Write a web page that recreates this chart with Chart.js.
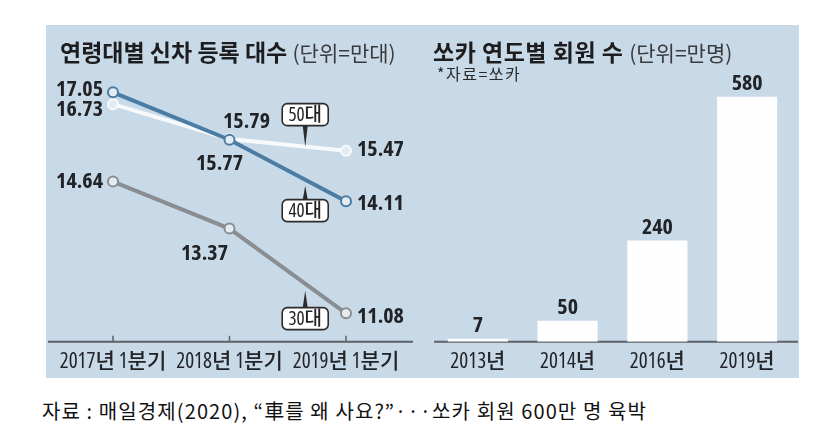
<!DOCTYPE html>
<html><head><meta charset="utf-8">
<script src="https://cdn.jsdelivr.net/npm/chart.js@4.4.0/dist/chart.umd.min.js"></script>
<style>
html,body{margin:0;padding:0;background:#fff;width:819px;height:431px;overflow:hidden;position:relative;}
#panel{position:absolute;left:46px;top:25px;width:753px;height:353px;background:#c8d9e7;}
canvas{position:absolute;top:25px;}
#lc{left:46px;}
#rc{left:416px;}
.title{position:absolute;font-family:'Noto Sans CJK KR',sans-serif;font-weight:700;font-size:23px;line-height:23px;color:#1d1d1f;white-space:nowrap;}
.title span{font-weight:400;font-size:21px;color:#3a3b3e;}
.note{position:absolute;left:437px;top:65px;font-family:'Noto Sans CJK KR',sans-serif;font-size:16px;line-height:16px;letter-spacing:1.5px;color:#2a2a2a;white-space:nowrap;}
#caption{position:absolute;left:42px;top:399px;font-family:'Noto Sans CJK KR',sans-serif;font-size:20px;line-height:24px;letter-spacing:1.1px;color:#111;white-space:nowrap;}
</style></head>
<body>
<div id="panel"></div>
<canvas id="lc" width="370" height="360"></canvas>
<canvas id="rc" width="383" height="360"></canvas>
<div class="title" style="left:60px;top:40px">연령대별 신차 등록 대수 <span>(단위=만대)</span></div>
<div class="title" style="left:433px;top:40px;letter-spacing:0.5px">쏘카 연도별 회원 수 <span style="letter-spacing:0">(단위=만명)</span></div>
<div class="note">*자료=쏘카</div>
<div id="caption">자료 : 매일경제(2020), “車를 왜 사요?”···쏘카 회원 600만 명 육박</div>
<script>
// ---- data ----
const quarterLabels = ['2017년 1분기', '2018년 1분기', '2019년 1분기'];
const seriesNames = ['40대', '50대', '30대'];
const age40 = [17.05, 15.77, 14.11];
const age50 = [16.73, 15.79, 15.47];
const age30 = [14.64, 13.37, 11.08];
const yearLabels = ['2013년', '2014년', '2016년', '2019년'];
const socarMembers = [7, 50, 240, 580];

// ---- style ----
const FAM = "'Open Sans','Noto Sans CJK KR',sans-serif";
const TEXT = '#222326';
const AXIS = '#5b6167';
const POINT_FILL = '#e4ecf2';
const lineColors = {'40대': '#4a7ca4', '50대': '#f7f9fb', '30대': '#8a8e93'};
const labelPlacement = {
  '40대': [{a:'right',dx:-10,dy:-3},{a:'center',dx:-10,dy:24},{a:'left',dx:11,dy:3}],
  '50대': [{a:'right',dx:-10,dy:6},{a:'center',dx:17,dy:-17},{a:'left',dx:11,dy:-1}],
  '30대': [{a:'right',dx:-10,dy:0},{a:'center',dx:-25,dy:25},{a:'left',dx:11,dy:3}]
};
const tagPlacement = {'40대': {t:0.65, dy:31, gap:6}, '50대': {t:0.65, dy:-32, gap:0}, '30대': {t:0.65, dy:35, gap:7}};
const tickFont = {family: FAM, size: 21, weight: '500 condensed', lineHeight: 1.2};

Chart.defaults.font.family = FAM;
Chart.defaults.color = TEXT;

function roundRect(ctx, x, y, w, h, r) {
  ctx.beginPath();
  ctx.moveTo(x + r, y);
  ctx.arcTo(x + w, y, x + w, y + h, r);
  ctx.arcTo(x + w, y + h, x, y + h, r);
  ctx.arcTo(x, y + h, x, y, r);
  ctx.arcTo(x, y, x + w, y, r);
  ctx.closePath();
}

const lineDecor = {
  id: 'lineDecor',
  beforeDatasetsDraw(chart) {
    const {ctx, chartArea, scales: {x}} = chart;
    const y0 = chartArea.bottom;
    ctx.save();
    ctx.strokeStyle = AXIS;
    ctx.lineWidth = 2;
    ctx.beginPath(); ctx.moveTo(2, y0); ctx.lineTo(chart.width - 3, y0); ctx.stroke();
    ctx.lineWidth = 1.5;
    x.ticks.forEach((t, i) => {
      const px = x.getPixelForTick(i);
      ctx.beginPath(); ctx.moveTo(px, y0); ctx.lineTo(px, y0 - 6); ctx.stroke();
    });
    ctx.restore();
  },
  afterDatasetsDraw(chart) {
    const {ctx} = chart;
    ctx.save();
    chart.data.datasets.forEach((ds, di) => {
      const meta = chart.getDatasetMeta(di);
      const place = labelPlacement[ds.label];
      ctx.font = "bold condensed 22px " + FAM;
      ctx.fillStyle = TEXT;
      ctx.textBaseline = 'middle';
      meta.data.forEach((pt, i) => {
        const p = place[i];
        ctx.textAlign = p.a;
        ctx.fillText(ds.data[i].toFixed(2), pt.x + p.dx, pt.y + p.dy);
      });
      const tg = tagPlacement[ds.label];
      const a = meta.data[1], b = meta.data[2];
      const tx = a.x + tg.t * (b.x - a.x);
      const ty = a.y + tg.t * (b.y - a.y);
      const bw = 46, bh = 22;
      const cy = ty + tg.dy;
      const edge = tg.dy < 0 ? cy + bh / 2 : cy - bh / 2;
      const tip = tg.dy < 0 ? ty - tg.gap : ty + tg.gap;
      ctx.fillStyle = '#2b2b2b';
      ctx.beginPath();
      ctx.moveTo(tx - 2.5, edge); ctx.lineTo(tx + 2.5, edge); ctx.lineTo(tx, tip); ctx.closePath();
      ctx.fill();
      roundRect(ctx, tx - bw / 2, cy - bh / 2, bw, bh, 5);
      ctx.fillStyle = '#ffffff';
      ctx.fill();
      ctx.lineWidth = 1.6;
      ctx.strokeStyle = '#2b2b2b';
      ctx.stroke();
      ctx.fillStyle = TEXT;
      ctx.textAlign = 'center';
      ctx.font = "500 condensed 19px " + FAM;
      ctx.fillText(ds.label, tx, cy + 1);
    });
    ctx.restore();
  }
};

const seriesData = {'40대': age40, '50대': age50, '30대': age30};
new Chart(document.getElementById('lc'), {
  type: 'line',
  data: {
    labels: quarterLabels,
    datasets: seriesNames.map(name => ({
      label: name,
      data: seriesData[name],
      borderColor: lineColors[name],
      borderWidth: 4,
      pointRadius: 5,
      pointBorderWidth: 2,
      pointBorderColor: lineColors[name],
      pointBackgroundColor: POINT_FILL,
      tension: 0
    }))
  },
  options: {
    responsive: false,
    animation: false,
    layout: {padding: {left: 67, right: 70, top: 0, bottom: 2}},
    plugins: {legend: {display: false}, tooltip: {enabled: false}},
    scales: {
      x: {
        offset: false,
        grid: {display: false, drawTicks: false},
        border: {display: false},
        ticks: {padding: 8, autoSkip: false, maxRotation: 0, color: TEXT, font: tickFont}
      },
      y: {display: false, min: 10.31, max: 18.68}
    }
  },
  plugins: [lineDecor]
});

const barDecor = {
  id: 'barDecor',
  beforeDatasetsDraw(chart) {
    const {ctx, chartArea} = chart;
    const y0 = chartArea.bottom;
    ctx.save();
    ctx.strokeStyle = AXIS;
    ctx.lineWidth = 2;
    ctx.beginPath(); ctx.moveTo(chartArea.left + 1, y0); ctx.lineTo(chart.width - 1, y0); ctx.stroke();
    ctx.restore();
  },
  afterDatasetsDraw(chart) {
    const {ctx} = chart;
    const meta = chart.getDatasetMeta(0);
    ctx.save();
    ctx.font = "bold condensed 22px " + FAM;
    ctx.fillStyle = TEXT;
    ctx.textAlign = 'center';
    ctx.textBaseline = 'bottom';
    meta.data.forEach((bar, i) => {
      ctx.fillText(String(chart.data.datasets[0].data[i]), bar.x, bar.y - 2);
    });
    ctx.restore();
  }
};

new Chart(document.getElementById('rc'), {
  type: 'bar',
  data: {
    labels: yearLabels,
    datasets: [{
      label: '회원 수',
      data: socarMembers,
      backgroundColor: '#fefefe',
      borderWidth: 0,
      categoryPercentage: 1,
      barPercentage: 0.67
    }]
  },
  options: {
    responsive: false,
    animation: false,
    layout: {padding: {left: 17, right: 7, top: 0, bottom: 2}},
    plugins: {legend: {display: false}, tooltip: {enabled: false}},
    scales: {
      x: {
        grid: {display: false, drawTicks: false},
        border: {display: false},
        ticks: {padding: 8, autoSkip: false, maxRotation: 0, color: TEXT, font: tickFont}
      },
      y: {display: false, min: 0, max: 750}
    }
  },
  plugins: [barDecor]
});
</script>
</body></html>
